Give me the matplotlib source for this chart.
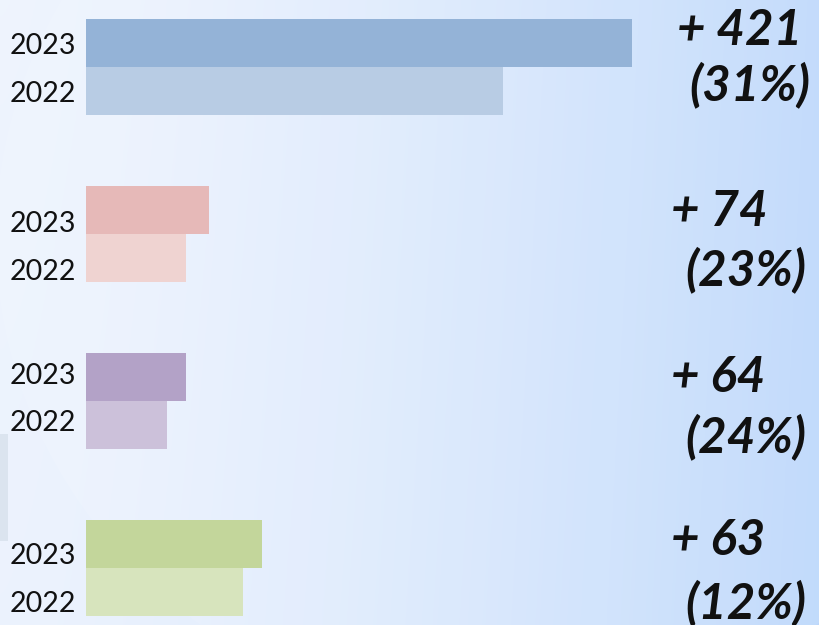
import numpy as np
import matplotlib
matplotlib.use("Agg")
import matplotlib.pyplot as plt
from matplotlib.patches import Ellipse, Rectangle

# ---- data ----
years = ["2023", "2022"]
values_2023 = [1782, 400, 327, 575]
values_2022 = [1361, 326, 263, 512]
diff_labels = ["+ 421", "+ 74", "+ 64", "+ 63"]
pct_labels = ["(31%)", "(23%)", "(24%)", "(12%)"]
colors_2023 = ["#94b3d7", "#e6b9b8", "#b3a2c7", "#c3d69b"]
colors_2022 = ["#b8cce4", "#efd3d1", "#ccc1da", "#d7e4bd"]

W, H, DPI = 820, 625, 100
fig = plt.figure(figsize=(W / DPI, H / DPI), dpi=DPI)

# ---- background gradient ----
bg = fig.add_axes([0, 0, 1, 1])
bg.set_axis_off()
nx, ny = 400, 300
x = np.linspace(0, 1, nx)
y = np.linspace(0, 1, ny)
X, Y = np.meshgrid(x, y)
left = np.array([0.935, 0.957, 0.995])
right = np.array([0.735, 0.843, 0.985])
t = np.clip(X ** 1.5 * 0.95 + 0.05 * Y, 0, 1)
img = left[None, None, :] * (1 - t[..., None]) + right[None, None, :] * t[..., None]
bg.imshow(img, extent=[0, 1, 0, 1], aspect="auto", origin="upper")
bg.add_patch(Ellipse((0.62, 0.62), 1.25, 1.55, facecolor="white", alpha=0.10,
                     edgecolor="none"))
bg.add_patch(Rectangle((0, 0.135), 0.01, 0.17, facecolor="#dbe4ef", edgecolor="none"))
bg.set_xlim(0, 1)
bg.set_ylim(0, 1)

# ---- bars ----
bar_left_px = 86
ax = fig.add_axes([bar_left_px / W, 0, 1 - bar_left_px / W, 1])
ax.set_facecolor("none")
units_per_px = 421 / 129
ax.set_xlim(0, (W - bar_left_px) * units_per_px)

group_gap_px = 167
bar_px = 48
h = bar_px / group_gap_px
ax.set_ylim((H - 67) / group_gap_px, -67 / group_gap_px)

n = len(values_2023)
pos = np.arange(n)
ax.barh(pos - h / 2, values_2023, height=h, color=colors_2023, linewidth=0)
ax.barh(pos + h / 2, values_2022, height=h, color=colors_2022, linewidth=0)

# tick labels (slightly shifted per group as in the original)
label_shift_px = [1, 12, -4, 9]
ticks, labels = [], []
for i in range(n):
    s = label_shift_px[i] / group_gap_px
    ticks += [i - h / 2 + s, i + h / 2 + s]
    labels += years
ax.set_yticks(ticks)
ax.set_yticklabels(labels, fontfamily="Lato", fontsize=20.5, color="#111111")
ax.tick_params(axis="y", length=0, pad=7)
ax.set_xticks([])
for sp in ax.spines.values():
    sp.set_visible(False)

# ---- annotations ----
line1_off_px = [-22, -8, -9, -13]
line2_off_px = [33, 51, 51, 50]
line1_x_px = [677, 671, 671, 671]
line2_x_px = [689, 685, 685, 685]
tr = matplotlib.transforms.blended_transform_factory(fig.transFigure, ax.transData)
for i in range(n):
    y1 = i + line1_off_px[i] / group_gap_px
    y2 = i + line2_off_px[i] / group_gap_px
    ax.text(line1_x_px[i] / W, y1, diff_labels[i], transform=tr, fontfamily="Lato",
            fontweight="bold", fontstyle="italic", fontsize=35.5, va="baseline",
            ha="left", color="#111111")
    ax.text(line2_x_px[i] / W, y2, pct_labels[i], transform=tr, fontfamily="Lato",
            fontweight="bold", fontstyle="italic", fontsize=35.5, va="baseline",
            ha="left", color="#111111", clip_on=False)

fig.savefig("out.png", dpi=DPI)
